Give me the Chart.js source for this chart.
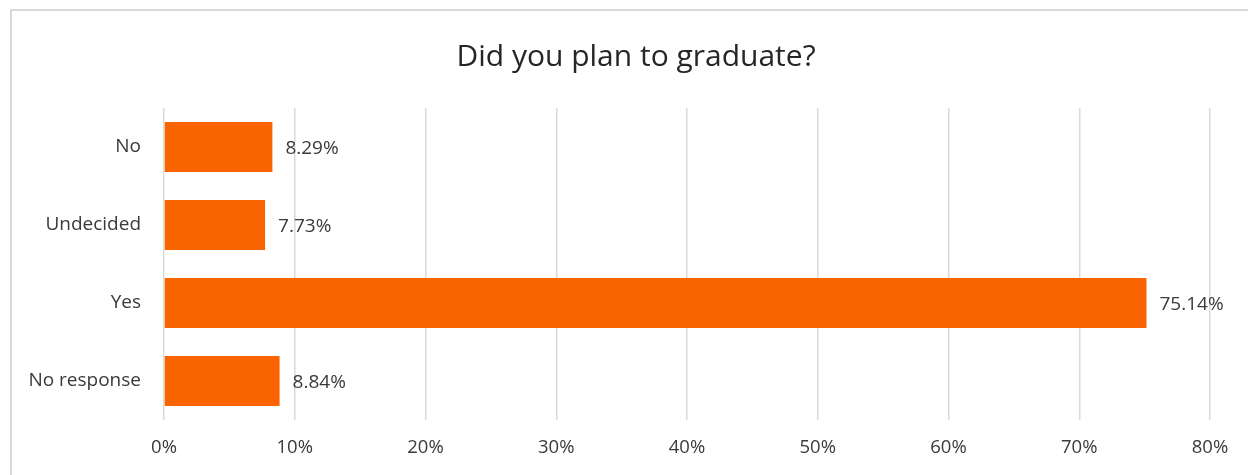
<!DOCTYPE html>
<html>
<head>
<meta charset="utf-8">
<script src="https://cdn.jsdelivr.net/npm/chart.js@4"></script>
<style>
    html, body { margin: 0; padding: 0; background: #fff; overflow: hidden; }
    #wrap { position: relative; width: 1248px; height: 475px; }
    #frame { position: absolute; left: 10px; top: 9px; width: 1300px; height: 520px; border: 2px solid #d9d9d9; }
    canvas { position: absolute; left: 0; top: 0; }
</style>
</head>
<body>
<div id="wrap">
    <div id="frame"></div>
    <canvas id="chart" width="1248" height="475"></canvas>
</div>
<script>
// 数据
const categories = ['No', 'Undecided', 'Yes', 'No response'];
const shares = [8.29, 7.73, 75.14, 8.84];
const xTicks = [0, 10, 20, 30, 40, 50, 60, 70, 80];

const FONT = "'Open Sans', 'Liberation Sans', sans-serif";
const TEXT = '#3a3a3a';

// 柱子末端的数值标签
const valueLabels = {
    id: 'valueLabels',
    afterDatasetsDraw(chart) {
        const ctx = chart.ctx;
        const meta = chart.getDatasetMeta(0);
        ctx.save();
        ctx.font = '19px ' + FONT;
        ctx.fillStyle = TEXT;
        ctx.textAlign = 'left';
        ctx.textBaseline = 'middle';
        meta.data.forEach((bar, i) => {
            ctx.fillText(shares[i].toFixed(2) + '%', bar.x + 13, bar.y + 2);
        });
        ctx.restore();
    }
};

new Chart(document.getElementById('chart'), {
    type: 'bar',
    data: {
        labels: categories,
        datasets: [{
            data: shares,
            backgroundColor: '#F96400',
            borderWidth: 0,
            categoryPercentage: 1,
            barPercentage: 0.64
        }]
    },
    options: {
        indexAxis: 'y',
        responsive: false,
        animation: false,
        layout: { padding: { left: 24, right: 0, top: 0, bottom: 0 } },
        plugins: {
            legend: { display: false },
            tooltip: { enabled: false },
            title: {
                display: true,
                text: 'Did you plan to graduate?',
                color: '#262626',
                font: { family: FONT, size: 30, weight: 'normal', lineHeight: 1.2 },
                padding: { top: 39, bottom: 33 }
            }
        },
        scales: {
            x: {
                min: 0,
                max: 80,
                afterBuildTicks(scale) {
                    scale.ticks = xTicks.map(v => ({ value: v }));
                },
                afterFit(scale) {
                    scale.height = 55;
                    scale.paddingRight = 38;
                },
                grid: { color: '#d9d9d9', lineWidth: 1.5, drawTicks: false },
                border: { display: false },
                ticks: {
                    padding: 17,
                    color: TEXT,
                    font: { family: FONT, size: 18.5 },
                    callback: v => v + '%'
                }
            },
            y: {
                afterFit(scale) { scale.width = 140; },
                grid: { display: false, drawTicks: false },
                border: { display: false },
                ticks: {
                    padding: 23,
                    color: TEXT,
                    font: { family: FONT, size: 19 }
                }
            }
        }
    },
    plugins: [valueLabels]
});
</script>
</body>
</html>
